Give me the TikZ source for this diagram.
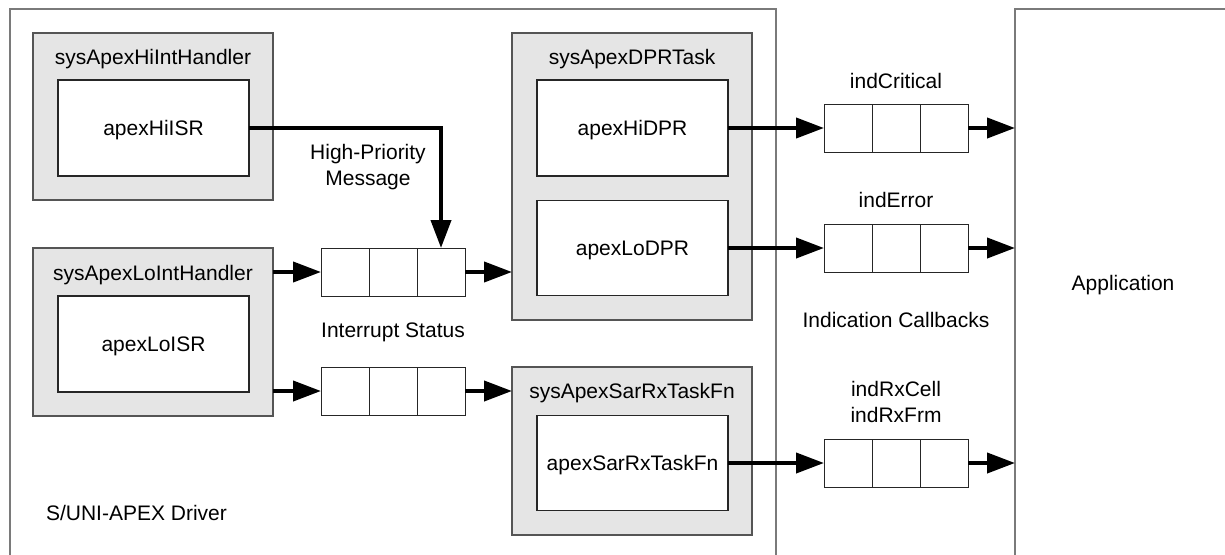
\documentclass[tikz,border=0pt]{standalone}
\usepackage{fontspec}
\setmainfont{Liberation Sans}
\usetikzlibrary{arrows.meta,positioning}
\definecolor{boxgray}{HTML}{E5E5E5}
\definecolor{edgegray}{HTML}{555555}
\definecolor{framegray}{HTML}{7A7A7A}
\tikzset{
  txt/.style={font=\fontsize{21}{26}\selectfont, inner sep=0pt, outer sep=0pt, text height=15pt, text depth=0pt},
  mtxt/.style={font=\fontsize{21}{26}\selectfont, inner sep=0pt, outer sep=0pt, align=center},
  outerbox/.style={draw=edgegray, fill=boxgray, line width=1.2pt, inner sep=0pt, outer sep=0pt, minimum width=240pt},
  innerbox/.style={draw=black!85, fill=white, line width=1.2pt, inner sep=0pt, outer sep=0pt, minimum width=191pt,
                   font=\fontsize{21}{26}\selectfont, text height=15pt, text depth=0pt},
  cell/.style={draw=black!85, fill=white, line width=1pt, minimum width=48pt, minimum height=48pt, inner sep=0pt, outer sep=0pt},
  flow/.style={line width=4pt, -{Triangle[length=28pt,width=20pt]}},
  frame/.style={draw=framegray, line width=1.2pt},
}
\begin{document}
\begin{tikzpicture}[x=1pt,y=-1pt]
\path[use as bounding box, clip] (0,0) rectangle (1225,554);
\fill[white] (0,0) rectangle (1225,554);

% driver frame and application frame
\draw[frame] (10,600) -- (10,9) -- (776,9) -- (776,600);
\draw[frame] (1240,9) -- (1015,9) -- (1015,600);
\coordinate (appL) at (1015,9);

% interrupt handlers
\node[outerbox, minimum height=167pt] (hiH) at (153,116.5) {};
\node[txt] (hiHt) at (153,57) {sysApexHiIntHandler};
\node[innerbox, minimum height=96pt] (hiISR) at (153.5,128) {apexHiISR};

\node[outerbox, minimum height=168pt] (loH) at (153,332) {};
\node[txt] (loHt) at (153,273) {sysApexLoIntHandler};
\node[innerbox, minimum height=96pt] (loISR) at (153.5,344) {apexLoISR};

% DPR task
\node[outerbox, minimum height=287pt] (dpr) at (632,176.5) {};
\node[txt] (dprt) at (632,57) {sysApexDPRTask};
\node[innerbox, minimum height=96pt] (hiDPR) at (632.5,128) {apexHiDPR};
\node[innerbox, minimum height=95pt] (loDPR) at (632.5,248) {apexLoDPR};

% SAR Rx task
\node[outerbox, minimum height=168pt] (sar) at (632,451) {};
\node[txt] (sart) at (632,391) {sysApexSarRxTaskFn};
\node[innerbox, minimum height=95pt] (sarFn) at (632.5,463) {apexSarRxTaskFn};

% queues
\node[cell] (q1b) at (393,272) {};
\node[cell, left=0pt of q1b] (q1a) {};
\node[cell, right=0pt of q1b] (q1c) {};

\node[cell] (q2b) at (393,391) {};
\node[cell, left=0pt of q2b] (q2a) {};
\node[cell, right=0pt of q2b] (q2c) {};

\node[cell] (qcb) at (896,128) {};
\node[cell, left=0pt of qcb] (qca) {};
\node[cell, right=0pt of qcb] (qcc) {};

\node[cell] (qeb) at (896,248) {};
\node[cell, left=0pt of qeb] (qea) {};
\node[cell, right=0pt of qeb] (qec) {};

\node[cell] (qrb) at (896,463) {};
\node[cell, left=0pt of qrb] (qra) {};
\node[cell, right=0pt of qrb] (qrc) {};

% labels
\node[mtxt] (hpm) at (368,167) {High-Priority\\Message};
\node[txt] (ist) at (393,330) {Interrupt Status};
\node[txt] (icrit) at (896,81) {indCritical};
\node[txt] (ierr) at (896,200) {indError};
\node[txt] (icb) at (896,320) {Indication Callbacks};
\node[mtxt] (irx) at (896,402) {indRxCell\\indRxFrm};
\node[txt] (appt) at (1123,283) {Application};
\node[txt, anchor=west] (drv) at (46,513) {S/UNI-APEX Driver};

% connectors
\draw[flow] (hiISR.east) -| (q1c.north);
\draw[flow] (q1a.west -| loH.east) -- (q1a.west);
\draw[flow] (q2a.west -| loH.east) -- (q2a.west);
\draw[flow] (q1c.east) -- (q1c.east -| dpr.west);
\draw[flow] (q2c.east) -- (q2c.east -| sar.west);
\draw[flow] (hiDPR.east) -- (qca.west);
\draw[flow] (loDPR.east) -- (qea.west);
\draw[flow] (sarFn.east) -- (qra.west);
\draw[flow] (qcc.east) -- (qcc.east -| appL);
\draw[flow] (qec.east) -- (qec.east -| appL);
\draw[flow] (qrc.east) -- (qrc.east -| appL);
\end{tikzpicture}
\end{document}
